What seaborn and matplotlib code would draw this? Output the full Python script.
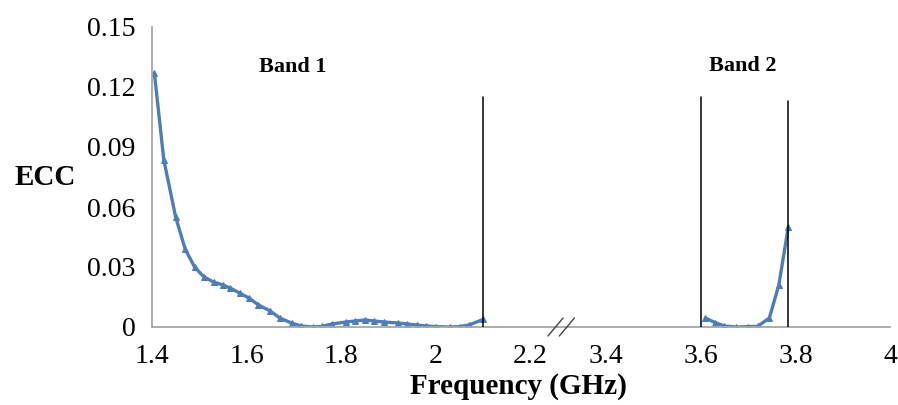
import matplotlib
matplotlib.use("Agg")
import matplotlib.pyplot as plt
import numpy as np
import pandas as pd
import seaborn as sns

# Band 1 (GHz) and its ECC values
band1_freq = [1.405, 1.425, 1.45, 1.47, 1.49, 1.51, 1.53, 1.55, 1.565, 1.585,
              1.605, 1.625, 1.65, 1.67, 1.695, 1.715, 1.74, 1.76, 1.78, 1.81,
              1.83, 1.85, 1.87, 1.89, 1.92, 1.94, 1.96, 1.98, 2.00, 2.03,
              2.05, 2.07, 2.10]
band1_ecc = [0.127, 0.0835, 0.055, 0.039, 0.030, 0.025, 0.0225, 0.021, 0.0195, 0.017,
             0.0145, 0.011, 0.008, 0.0045, 0.002, 0.0005, 0.0, 0.0003, 0.0015, 0.0025,
             0.003, 0.0035, 0.003, 0.0025, 0.002, 0.0015, 0.001, 0.0005, 0.0002, 0.0,
             0.0002, 0.001, 0.0038]

# Band 2 (GHz) and its ECC values
band2_freq = [3.61, 3.63, 3.65, 3.675, 3.70, 3.72, 3.745, 3.765, 3.785]
band2_ecc = [0.0045, 0.0022, 0.0005, 0.0, 0.0002, 0.0003, 0.0045, 0.021, 0.050]

# Band edges (GHz)
band_edges = [2.10, 3.60, 3.785]

xtick_values = [1.4, 1.6, 1.8, 2.0, 2.2, 3.4, 3.6, 3.8, 4.0]
xtick_labels = ["1.4", "1.6", "1.8", "2", "2.2", "3.4", "3.6", "3.8", "4"]
ytick_values = [0, 0.03, 0.06, 0.09, 0.12, 0.15]
ytick_labels = ["0", "0.03", "0.06", "0.09", "0.12", "0.15"]

# Broken frequency axis: everything above the break is shifted left
GAP = 1.04
BREAK = 2.3


def to_axis(f):
    f = np.asarray(f, dtype=float)
    return np.where(f <= BREAK, f, f - GAP)


sns.set_theme(style="white")
plt.rcParams["font.family"] = ["Liberation Serif", "DejaVu Serif"]
plt.rcParams["text.color"] = "black"

fig = plt.figure(figsize=(8.98, 4.05), dpi=100)
ax = fig.add_axes([152 / 898, 1 - 327 / 405, (890 - 152) / 898, 300 / 405])

line_color = "#4f7db5"
for freq, ecc in [(band1_freq, band1_ecc), (band2_freq, band2_ecc)]:
    df = pd.DataFrame({"pos": to_axis(freq), "ecc": ecc})
    sns.lineplot(data=df, x="pos", y="ecc", ax=ax, color=line_color,
                 linewidth=2.4, marker="^", markersize=5,
                 markeredgecolor=line_color, estimator=None, sort=False)

# Band edge markers
edge_tops = [0.115, 0.115, 0.113]
for edge, top in zip(band_edges, edge_tops):
    x = float(to_axis(edge))
    ax.plot([x, x], [0, top], color="black", linewidth=1.1, zorder=3)

ax.set_xlim(1.4, float(to_axis(4.0)))
ax.set_ylim(0, 0.15)
ax.set_xticks(to_axis(xtick_values))
ax.set_xticklabels(xtick_labels)
ax.set_yticks(ytick_values)
ax.set_yticklabels(ytick_labels)
ax.tick_params(axis="both", length=0, labelsize=20, colors="black")
ax.tick_params(axis="x", pad=12)
ax.tick_params(axis="y", pad=12)
ax.set_xlabel("")
ax.set_ylabel("")

for side in ["top", "right"]:
    ax.spines[side].set_visible(False)
for side in ["left", "bottom"]:
    ax.spines[side].set_color("#a6a6a6")
    ax.spines[side].set_linewidth(1.3)

# Axis break slashes
for dx in (-0.012, 0.012):
    cx = 2.265 + dx
    ax.plot([cx - 0.016, cx + 0.016], [-0.0045, 0.0045], color="#444444",
            linewidth=1.0, clip_on=False, zorder=4)

ax.text(1.698, 0.130, "Band 1", ha="center", va="center",
        fontsize=16, fontweight="bold", color="black")
ax.text(float(to_axis(3.689)), 0.1305, "Band 2", ha="center", va="center",
        fontsize=16, fontweight="bold", color="black")

fig.text(45 / 898, 1 - 177 / 405, "ECC", ha="center", va="center",
         fontsize=21, fontweight="bold", color="black")
fig.text(518 / 898, 1 - 386 / 405, "Frequency (GHz)", ha="center", va="center",
         fontsize=21, fontweight="bold", color="black")

fig.savefig("out.png", dpi=100, facecolor="white")
